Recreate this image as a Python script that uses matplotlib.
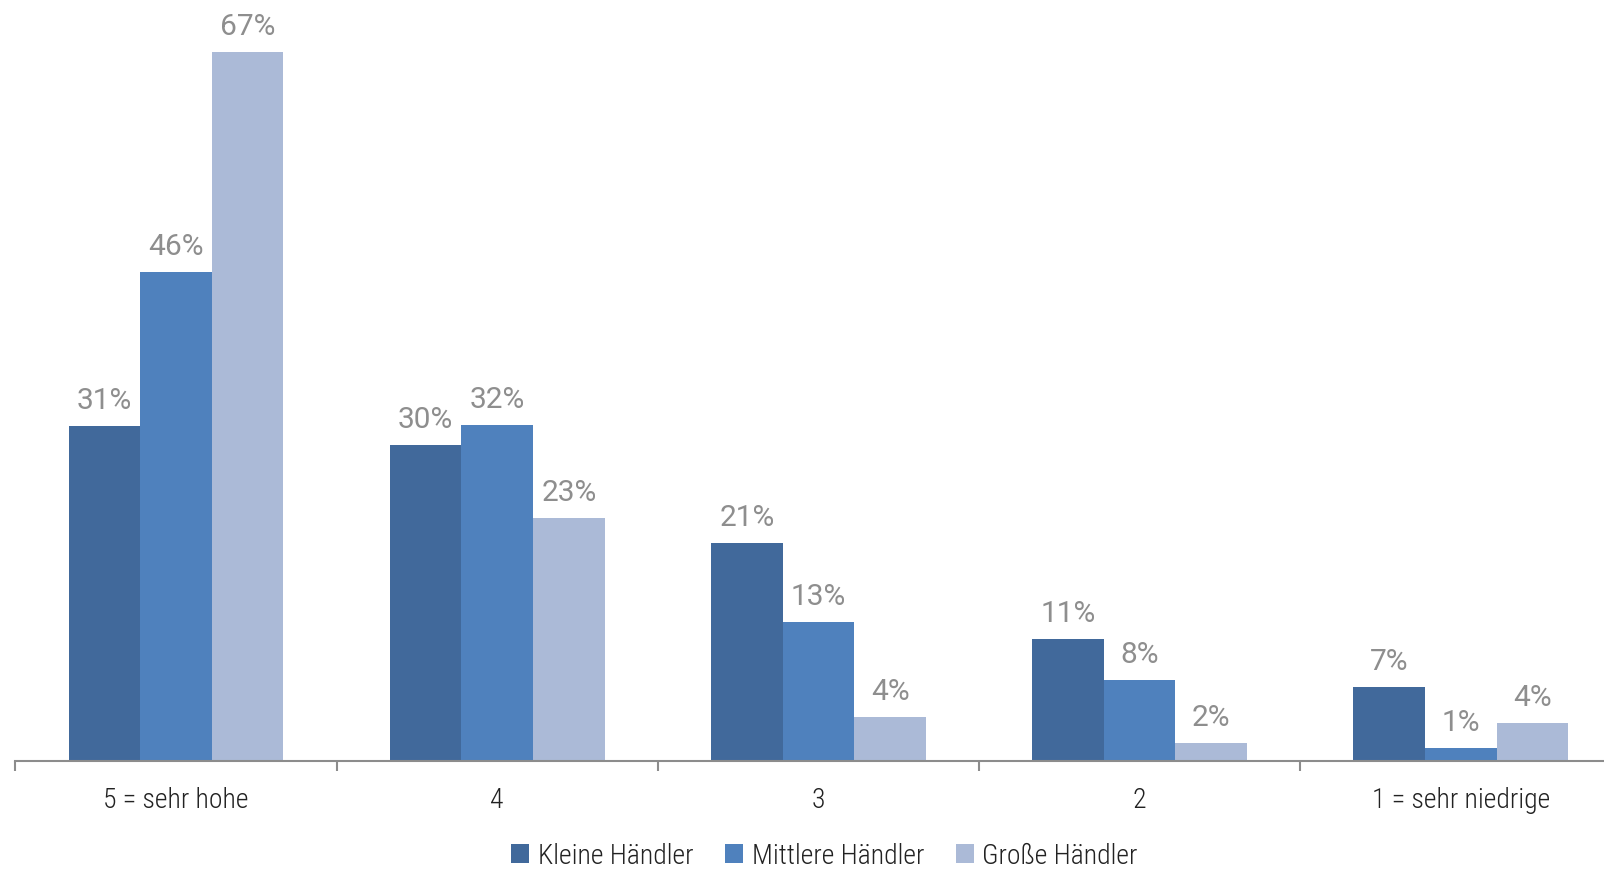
import numpy as np
import matplotlib.pyplot as plt

# === DATA ===
categories = ["5 = sehr hohe", "4", "3", "2", "1 = sehr niedrige"]
series_names = ["Kleine Händler", "Mittlere Händler", "Große Händler"]
kleine = [31.6, 29.8, 20.6, 11.5, 7.0]
mittlere = [46.2, 31.7, 13.1, 7.6, 1.2]
grosse = [67.0, 22.9, 4.1, 1.7, 3.6]
kleine_labels = ["31%", "30%", "21%", "11%", "7%"]
mittlere_labels = ["46%", "32%", "13%", "8%", "1%"]
grosse_labels = ["67%", "23%", "4%", "2%", "4%"]

colors = ["#41699b", "#4f81bd", "#abbad7"]

plt.rcParams['font.family'] = ['Roboto Condensed', 'Roboto', 'DejaVu Sans']

fig = plt.figure(figsize=(16.04, 8.7), dpi=100)
ax = fig.add_axes([0.0096, 0.1245, 1.0013, 0.8755])

x = np.arange(len(categories))
w = 0.223
series = [kleine, mittlere, grosse]
labels = [kleine_labels, mittlere_labels, grosse_labels]

for i, (vals, labs) in enumerate(zip(series, labels)):
    pos = x + (i - 1) * w
    ax.bar(pos, vals, width=w, color=colors[i], label=series_names[i], linewidth=0)
    for px, v, t in zip(pos, vals, labs):
        ax.annotate(t, (px, v), xytext=(0, 13), textcoords="offset points",
                    ha="center", va="baseline", fontsize=21.5, color="#8e8e8e",
                    family=['Roboto', 'DejaVu Sans'])

ax.set_xlim(-0.5, len(categories) - 0.5)
ax.set_ylim(0, 72)

# axis styling
for s in ["top", "right", "left"]:
    ax.spines[s].set_visible(False)
ax.spines["bottom"].set_color("#8c8c8c")
ax.spines["bottom"].set_linewidth(1.5)
ax.set_yticks([])

# boundary ticks between groups, labels at centres
ax.set_xticks(np.arange(len(categories) + 1) - 0.5)
ax.set_xticklabels([])
ax.tick_params(axis="x", which="major", length=7, width=1.5, color="#8c8c8c")
ax.set_xticks(x, minor=True)
ax.set_xticklabels(categories, minor=True, fontsize=20, color="#222222", fontweight="light")
ax.tick_params(axis="x", which="minor", length=0, pad=18)

fig.legend(loc="lower center", bbox_to_anchor=(0.514, -0.029), ncol=3, frameon=False,
           prop={'size': 20, 'weight': 'light'}, handlelength=0.65, handleheight=0.65,
           handletextpad=0.3, columnspacing=1.15, labelcolor="#222222")

fig.savefig("out.png", dpi=100)
